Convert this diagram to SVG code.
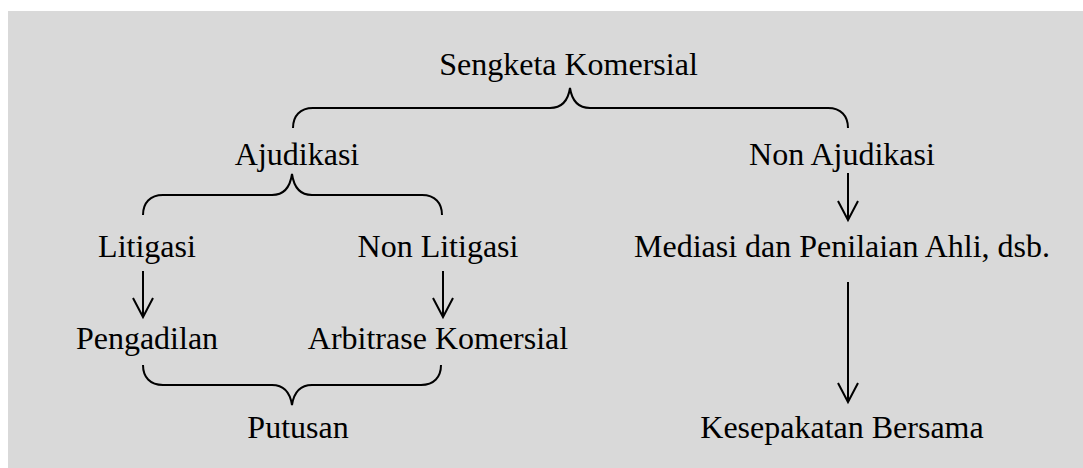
<svg xmlns="http://www.w3.org/2000/svg" width="1083" height="468" viewBox="0 0 1083 468">
  <style>
    .lbl { font-family: "Liberation Serif", "Times New Roman", serif; font-size: 32px; fill: #000; text-anchor: middle; }
    .brace { fill: none; stroke: #000; stroke-width: 2; }
    .arr { fill: none; stroke: #000; stroke-width: 2; marker-end: url(#vhead); }
  </style>
  <defs>
    <marker id="vhead" markerUnits="userSpaceOnUse" viewBox="-21 -12 24 24" markerWidth="24" markerHeight="24" refX="0" refY="0" orient="auto">
      <path d="M-19,-10 L0,0 L-19,10" fill="none" stroke="#000" stroke-width="2"/>
    </marker>
  </defs>
  <rect x="8" y="11" width="1075" height="457" fill="#d9d9d9"/>

  <g id="connectors">
    <path class="brace" d="M293,128 C293,116 300,108 313,108 L550,108 C561,108 568,101 570,88 C572,101 579,108 590,108 L828,108 C841,108 848,116 848,128"/>
    <path class="brace" d="M143,215 C143,203 150,195 163,195 L272,195 C283,195 290,188 292,174 C294,188 301,195 312,195 L422,195 C435,195 442,203 442,215"/>
    <path class="brace" d="M143,365 C143,377 150,385 163,385 L272,385 C283,385 290,392 292,405 C294,392 301,385 312,385 L421,385 C434,385 441,377 441,365"/>
    <line class="arr" x1="143" y1="271" x2="143" y2="317"/>
    <line class="arr" x1="443" y1="271" x2="443" y2="317"/>
    <line class="arr" x1="848" y1="173" x2="848" y2="220"/>
    <line class="arr" x1="848" y1="282" x2="848" y2="402"/>
  </g>

  <g id="sengketa"><text class="lbl" x="568.5" y="75">Sengketa Komersial</text></g>
  <g id="ajudikasi"><text class="lbl" x="297" y="165">Ajudikasi</text></g>
  <g id="non-ajudikasi"><text class="lbl" x="842" y="165">Non Ajudikasi</text></g>
  <g id="litigasi"><text class="lbl" x="147" y="257">Litigasi</text></g>
  <g id="non-litigasi"><text class="lbl" x="438" y="257">Non Litigasi</text></g>
  <g id="mediasi"><text class="lbl" x="842" y="257">Mediasi dan Penilaian Ahli, dsb.</text></g>
  <g id="pengadilan"><text class="lbl" x="147" y="349">Pengadilan</text></g>
  <g id="arbitrase"><text class="lbl" x="438" y="349">Arbitrase Komersial</text></g>
  <g id="putusan"><text class="lbl" x="298" y="438">Putusan</text></g>
  <g id="kesepakatan"><text class="lbl" x="842" y="438">Kesepakatan Bersama</text></g>
</svg>
